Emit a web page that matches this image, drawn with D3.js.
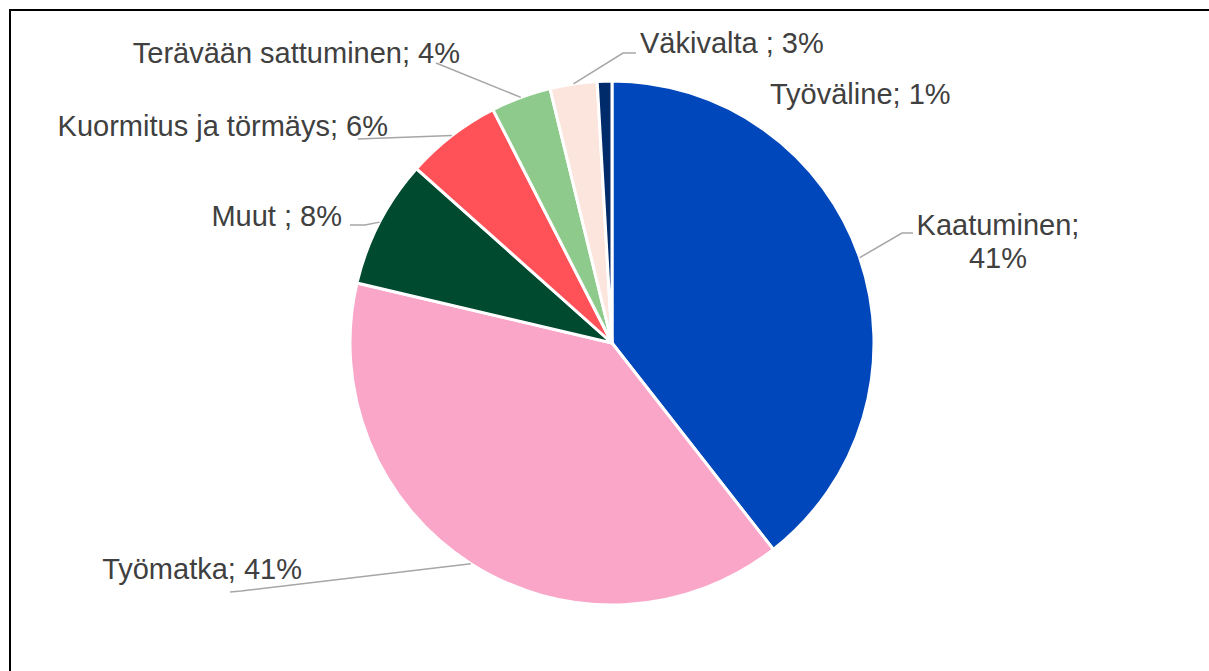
<!DOCTYPE html>
<html>
<head>
<meta charset="utf-8">
<script src="https://cdn.jsdelivr.net/npm/d3@7"></script>
<style>
  html, body { margin: 0; padding: 0; background: #fff; overflow: hidden; }
  svg { display: block; }
</style>
</head>
<body>
<svg id="chart" width="1209" height="671"></svg>
<script>
// categories, clockwise from 12 o'clock
const categories = ['Kaatuminen', 'Työmatka', 'Muut ', 'Kuormitus ja törmäys', 'Terävään sattuminen', 'Väkivalta ', 'Työväline'];
// slice sizes (share of the circle, %)
const values = [39.4, 39.2, 7.9, 5.9, 3.7, 2.9, 0.9];
// percentages printed in the labels
const pctLabels = ['41%', '41%', '8%', '6%', '4%', '3%', '1%'];
const colors = ['#0047bb', '#f9a6c9', '#004b30', '#ff5258', '#8dca8b', '#fce5dc', '#002b6b'];

const width = 1209, height = 671;
const cx = 612, cy = 343, radius = 262;

const svg = d3.select('#chart');

// frame
svg.append('rect')
  .attr('x', 10).attr('y', 10)
  .attr('width', 1400).attr('height', 900)
  .attr('fill', 'none')
  .attr('stroke', '#000')
  .attr('stroke-width', 2);

const g = svg.append('g').attr('transform', `translate(${cx},${cy})`);

const data = categories.map((c, i) => ({ name: c, value: values[i], pct: pctLabels[i], color: colors[i] }));

const pie = d3.pie().sort(null).value(d => d.value);
const arc = d3.arc().innerRadius(0).outerRadius(radius);
const edge = d3.arc().innerRadius(radius).outerRadius(radius);

const arcs = pie(data);

g.selectAll('.slice')
  .data(arcs)
  .enter()
  .append('path')
  .attr('class', 'slice')
  .attr('d', arc)
  .attr('fill', d => d.data.color)
  .attr('stroke', '#fff')
  .attr('stroke-width', 3)
  .attr('stroke-linejoin', 'round');

// label placement (page coords): text anchor point, leader bend points
const labelLayout = [
  { x: 998, y: 235, anchor: 'middle', twoLines: true, leader: [[902, 233], [913, 233]] },
  { x: 302, y: 579, anchor: 'end', leader: [[241, 591], [230, 592]] },
  { x: 342, y: 226, anchor: 'end', leader: [[365, 225], [350, 225]] },
  { x: 388, y: 136, anchor: 'end', leader: [[358, 139]] },
  { x: 460, y: 63, anchor: 'end', leader: [[436, 63]] },
  { x: 640, y: 53, anchor: 'start', leader: [[623, 53], [636, 53]] },
  { x: 770, y: 104, anchor: 'start', leader: null }
];

const labels = svg.append('g');

arcs.forEach((d, i) => {
  const lay = labelLayout[i];
  if (lay.leader) {
    const [sx, sy] = edge.centroid(d);
    const pts = [[sx + cx, sy + cy]].concat(lay.leader);
    labels.append('path')
      .attr('d', d3.line()(pts))
      .attr('fill', 'none')
      .attr('stroke', '#a6a6a6')
      .attr('stroke-width', 1.5);
  }
  const t = labels.append('text')
    .attr('x', lay.x)
    .attr('y', lay.y)
    .attr('text-anchor', lay.anchor)
    .style('font-family', '"Liberation Sans", Arial, sans-serif')
    .style('font-size', '29px')
    .style('fill', '#404040');
  if (lay.twoLines) {
    t.append('tspan').attr('x', lay.x).text(d.data.name + ';');
    t.append('tspan').attr('x', lay.x).attr('dy', 33).text(d.data.pct);
  } else {
    t.text(d.data.name + '; ' + d.data.pct);
  }
});
</script>
</body>
</html>
